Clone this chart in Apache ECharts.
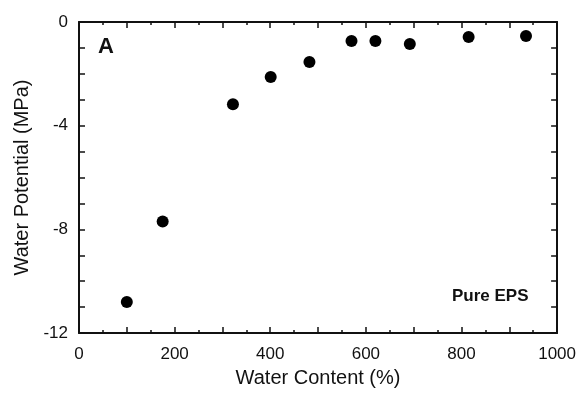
<!DOCTYPE html>
<html>
<head>
<meta charset="utf-8">
<script src="https://cdn.jsdelivr.net/npm/echarts@6/dist/echarts.min.js"></script>
<style>
  html, body { margin: 0; padding: 0; background: #fff; }
  #chart { width: 579px; height: 396px; }
</style>
</head>
<body>
<div id="chart"></div>
<script>
// water content (%) vs water potential (MPa), pure EPS
const waterContent = [100, 175, 322, 401, 482, 570, 620, 692, 815, 935]
const waterPotential = [-10.8, -7.7, -3.17, -2.12, -1.54, -0.73, -0.73, -0.85, -0.58, -0.54]
const xLabels = [0, 200, 400, 600, 800, 1000]
const yLabels = [0, -4, -8, -12]

const font = '"Liberation Sans", Arial, sans-serif'
const myChart = echarts.init(document.getElementById('chart'))

const lineStyle = { color: '#111', width: 2 }
const tickCommon = { show: true, inside: true, length: 6, lineStyle: { color: '#111', width: 1.5 } }
const minorCommon = { show: true, length: 3, lineStyle: { color: '#111', width: 1.5 } }

let option = {
  animation: false,
  grid: { left: 79, right: 19, top: 22, bottom: 63, show: false },
  xAxis: [{
    type: 'value',
    min: 0,
    max: 1000,
    interval: 100,
    position: 'bottom',
    name: 'Water Content (%)',
    nameLocation: 'middle',
    nameGap: 35,
    nameTextStyle: { fontFamily: font, fontSize: 20, color: '#111' },
    axisLine: { show: true, onZero: false, lineStyle: lineStyle },
    axisTick: tickCommon,
    minorTick: Object.assign({ splitNumber: 2 }, minorCommon),
    splitLine: { show: false },
    axisLabel: {
      margin: 13,
      fontFamily: font,
      fontSize: 17,
      color: '#111',
      formatter: v => xLabels.includes(v) ? String(v) : ''
    }
  }, {
    type: 'value',
    min: 0,
    max: 1000,
    interval: 100,
    position: 'top',
    axisLine: { show: true, onZero: false, lineStyle: lineStyle },
    axisTick: tickCommon,
    minorTick: Object.assign({ splitNumber: 2 }, minorCommon),
    splitLine: { show: false },
    axisLabel: { show: false }
  }],
  yAxis: [{
    type: 'value',
    min: -12,
    max: 0,
    interval: 1,
    position: 'left',
    name: 'Water Potential (MPa)',
    nameLocation: 'middle',
    nameGap: 46,
    nameTextStyle: { fontFamily: font, fontSize: 20, color: '#111' },
    axisLine: { show: true, onZero: false, lineStyle: lineStyle },
    axisTick: tickCommon,
    splitLine: { show: false },
    axisLabel: {
      margin: 11,
      fontFamily: font,
      fontSize: 17,
      color: '#111',
      formatter: v => yLabels.includes(v) ? String(v) : ''
    }
  }, {
    type: 'value',
    min: -12,
    max: 0,
    interval: 1,
    position: 'right',
    axisLine: { show: true, onZero: false, lineStyle: lineStyle },
    axisTick: tickCommon,
    splitLine: { show: false },
    axisLabel: { show: false }
  }],
  graphic: [{
    type: 'text',
    left: 98,
    top: 36,
    style: { text: 'A', fontFamily: font, fontWeight: 'bold', fontSize: 22, fill: '#111' }
  }, {
    type: 'text',
    left: 452,
    top: 288,
    style: { text: 'Pure EPS', fontFamily: font, fontWeight: 'bold', fontSize: 17, fill: '#111' }
  }],
  series: [{
    type: 'scatter',
    symbol: 'circle',
    symbolSize: 12,
    itemStyle: { color: '#000', opacity: 1 },
    data: waterContent.map((x, i) => [x, waterPotential[i]])
  }]
}
option && myChart.setOption(option)
</script>
</body>
</html>
